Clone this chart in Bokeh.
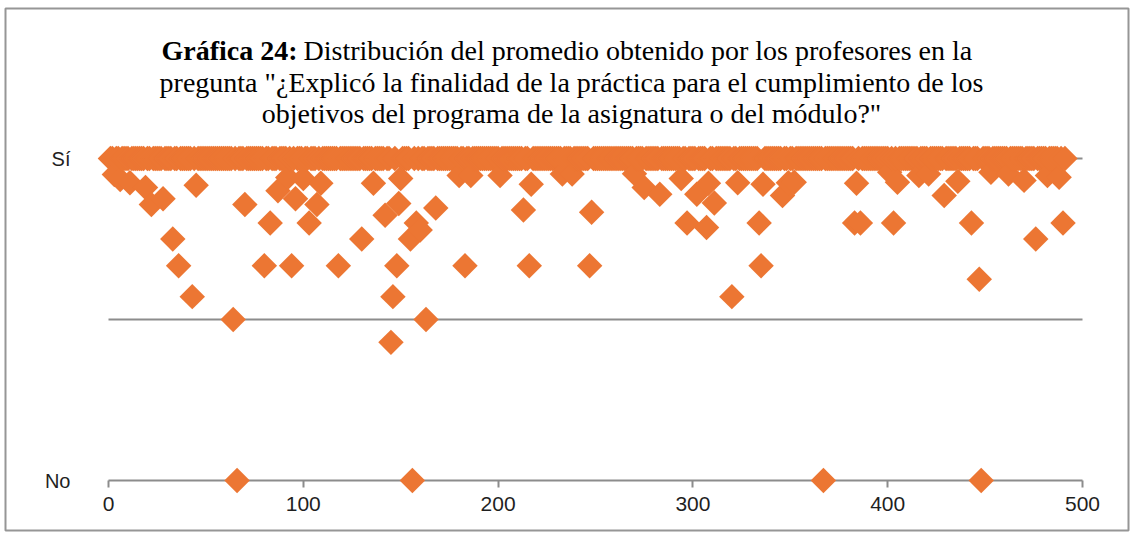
import math
from bokeh.plotting import figure
from bokeh.models import Range1d, FixedTicker, Label
from bokeh.embed import file_html
from bokeh.resources import INLINE

# ---------------- data ----------------
N_TEACHERS = 491                      # teachers plotted along x (1..N)
# teachers whose average is below "Sí" (=1); all others sit at 1
below_idx = [3, 6, 11, 19, 22, 28, 33, 36, 43, 45, 64, 66, 70, 80, 83, 87, 92, 94,
             96, 100, 103, 107, 109, 118, 130, 136, 142, 145, 146, 148, 149, 150,
             155, 156, 158, 160, 163, 168, 180, 183, 186, 201, 213, 216, 217, 233,
             238, 247, 248, 270, 275, 283, 294, 297, 302, 307, 308, 311, 320, 323,
             334, 335, 336, 346, 349, 352, 367, 383, 384, 386, 401, 403, 405, 416,
             421, 429, 436, 443, 447, 448, 453, 462, 470, 476, 482, 488, 490]
below_val = [0.95, 0.935, 0.925, 0.91, 0.857, 0.875, 0.75, 0.667, 0.571, 0.917, 0.5, 0.0,
             0.857, 0.667, 0.8, 0.9, 0.941, 0.667, 0.875, 0.938, 0.8, 0.857, 0.923,
             0.667, 0.75, 0.923, 0.824, 0.429, 0.571, 0.667, 0.86, 0.938, 0.75, 0.0,
             0.8, 0.778, 0.5, 0.846, 0.947, 0.667, 0.947, 0.947, 0.84, 0.667, 0.92,
             0.952, 0.952, 0.667, 0.833, 0.953, 0.91, 0.889, 0.938, 0.8, 0.889, 0.786,
             0.923, 0.862, 0.571, 0.925, 0.8, 0.667, 0.92, 0.885, 0.925, 0.926, 0.0,
             0.8, 0.923, 0.8, 0.957, 0.8, 0.926, 0.947, 0.952, 0.885, 0.929, 0.8,
             0.625, 0.0, 0.957, 0.952, 0.932, 0.75, 0.947, 0.942, 0.8]

x_ticks = [0, 100, 200, 300, 400, 500]
y_ticks = [0, 1]
y_tick_labels = {0: "No", 1: "Sí"}
grid_y = [0.5, 1]

title_bold = "Gráfica 24:"
title_line1 = "Distribución del promedio obtenido por los profesores en la"
title_line2 = 'pregunta "¿Explicó la finalidad de la práctica para el cumplimiento de los'
title_line3 = 'objetivos del programa de la asignatura o del módulo?"'

ORANGE = "#EC7633"
GREY = "#8C8C8C"

# ---------------- geometry (page pixels) ----------------
W, H = 1133, 533
FL, FT, FR, FB = 5, 8, 1128, 530          # chart box (= frame, outlined)
PX_X0, PX_PER_X = 108, 1.948              # x=0 at 108 px, 1.948 px per unit
PY_Y0, PX_PER_Y = 480, 322                # y=0 at 480 px, 322 px per unit

X0 = (FL - PX_X0) / PX_PER_X
X1 = (FR - PX_X0) / PX_PER_X
Y0 = (PY_Y0 - FB) / PX_PER_Y
Y1 = (PY_Y0 - FT) / PX_PER_Y


def dx(px):
    return (px - PX_X0) / PX_PER_X


def dy(py):
    return (PY_Y0 - py) / PX_PER_Y


# ---------------- build ----------------
lookup = dict(zip(below_idx, below_val))
xs = list(range(1, N_TEACHERS + 1))
ys = [lookup.get(i, 1.0) for i in xs]

p = figure(frame_width=FR - FL, frame_height=FB - FT,
           x_range=Range1d(X0, X1), y_range=Range1d(Y0, Y1),
           output_backend="svg", toolbar_location=None, title=None,
           min_border_left=FL, min_border_right=W - FR, min_border_top=FT,
           min_border_bottom=H - FB)
p.outline_line_color = "#969696"
p.outline_line_width = 2
p.background_fill_color = "white"
p.border_fill_color = "white"
p.xgrid.visible = False
p.ygrid.visible = False

# horizontal grid lines spanning the x-axis extent
p.segment(x0=[x_ticks[0]] * len(grid_y), x1=[x_ticks[-1]] * len(grid_y),
          y0=grid_y, y1=grid_y, line_color=GREY, line_width=2)

p.scatter(xs, ys, marker="square", size=18, angle=math.pi / 4,
          fill_color=ORANGE, line_color=None)

# x axis at y=0
xa = p.xaxis[0]
xa.fixed_location = 0
xa.bounds = (x_ticks[0], x_ticks[-1])
xa.ticker = FixedTicker(ticks=x_ticks)
xa.axis_line_color = GREY
xa.axis_line_width = 2
xa.major_tick_line_color = GREY
xa.major_tick_line_width = 2
xa.major_tick_in = 0
xa.major_tick_out = 7
xa.minor_tick_line_color = None
xa.major_label_standoff = 9
xa.major_label_text_font = "Liberation Sans"
xa.major_label_text_font_size = "21px"
xa.major_label_text_color = "#1F1F1F"
xa.level = "underlay"

# y axis (labels only)
ya = p.yaxis[0]
ya.fixed_location = dx(74)
ya.ticker = FixedTicker(ticks=y_ticks)
ya.major_label_overrides = y_tick_labels
ya.axis_line_color = None
ya.major_tick_line_color = None
ya.major_tick_in = 0
ya.major_tick_out = 0
ya.minor_tick_line_color = None
ya.major_label_standoff = 4
ya.major_label_text_font = "Liberation Sans"
ya.major_label_text_font_size = "20px"
ya.major_label_text_color = "#1F1F1F"
ya.major_label_text_baseline = "alphabetic"

# title
TF = "Liberation Serif"
TS = "28px"
p.add_layout(Label(x=dx(297), y=dy(50), text=title_bold, text_align="right",
                   text_baseline="alphabetic", text_font=TF, text_font_size=TS,
                   text_font_style="bold", text_color="black"))
p.add_layout(Label(x=dx(303), y=dy(50), text=title_line1, text_align="left",
                   text_baseline="alphabetic", text_font=TF, text_font_size=TS,
                   text_color="black"))
p.add_layout(Label(x=dx(571), y=dy(82), text=title_line2, text_align="center",
                   text_baseline="alphabetic", text_font=TF, text_font_size=TS,
                   text_color="black"))
p.add_layout(Label(x=dx(571), y=dy(113), text=title_line3, text_align="center",
                   text_baseline="alphabetic", text_font=TF, text_font_size=TS,
                   text_color="black"))

open("out.html", "w").write(file_html(p, INLINE))
